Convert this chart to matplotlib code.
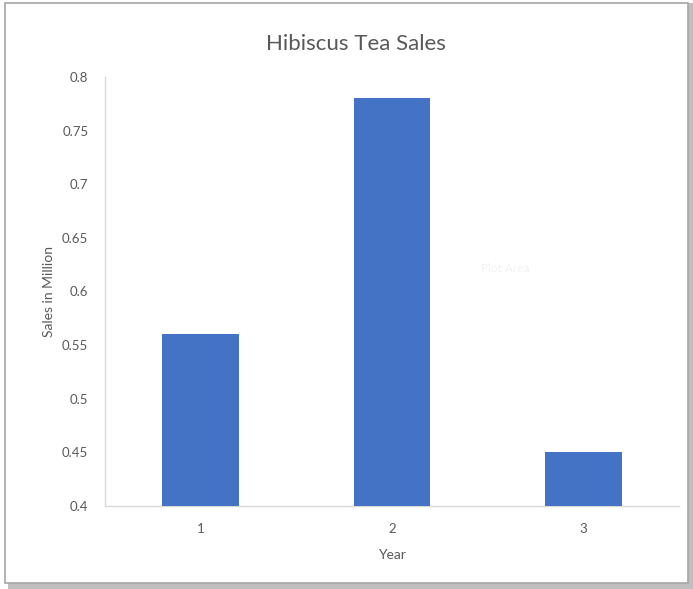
import matplotlib
matplotlib.use("Agg")
import matplotlib.pyplot as plt
from matplotlib.patches import Rectangle

plt.rcParams['font.family'] = ['Lato', 'DejaVu Sans']

years = ["1", "2", "3"]
sales = [0.56, 0.78, 0.45]
yticks = [0.4, 0.45, 0.5, 0.55, 0.6, 0.65, 0.7, 0.75, 0.8]
ytick_labels = ["0.4", "0.45", "0.5", "0.55", "0.6", "0.65", "0.7", "0.75", "0.8"]

W, H = 693, 589
fig = plt.figure(figsize=(W / 100, H / 100), dpi=100)

# chart frame with shadow
fig.patches.append(Rectangle((8 / W, 1 - 589 / H), (W - 8) / W, 586 / H,
                             transform=fig.transFigure, facecolor='#bfbfbf',
                             edgecolor='none', zorder=0))
fig.patches.append(Rectangle((5 / W, 1 - 583 / H), 683 / W, 580 / H,
                             transform=fig.transFigure, facecolor='white',
                             edgecolor='#a6a6a6', linewidth=1.2, zorder=1))

ax = fig.add_axes([105 / W, 1 - 506 / H, 574 / W, 429 / H])
ax.set_zorder(2)
x = range(len(years))
ax.bar(x, sales, width=0.40, color='#4472c4', zorder=3)
ax.set_xlim(-0.5, len(years) - 0.5)
ax.set_ylim(0.4, 0.8)
ax.set_xticks(list(x))
ax.set_xticklabels(years)
ax.set_yticks(yticks)
ax.set_yticklabels(ytick_labels)
ax.tick_params(length=0, colors='#595959', labelsize=9.5)
ax.tick_params(axis='x', pad=12)
ax.tick_params(axis='y', pad=12)
for s in ['top', 'right']:
    ax.spines[s].set_visible(False)
for s in ['left', 'bottom']:
    ax.spines[s].set_color('#d9d9d9')
    ax.spines[s].set_linewidth(1.0)
ax.set_facecolor('none')

ax.set_xlabel("Year", color='#595959', fontsize=10, labelpad=10)
ax.set_ylabel("Sales in Million", color='#595959', fontsize=10, labelpad=5)
fig.text(356 / W, 1 - 44 / H, "Hibiscus Tea Sales", ha='center', va='center',
         fontsize=16, color='#595959')
fig.text(505 / W, 1 - 268 / H, "Plot Area", ha='center', va='center',
         fontsize=8.5, color='#f2f2f2')

fig.savefig("out.png", dpi=100)
